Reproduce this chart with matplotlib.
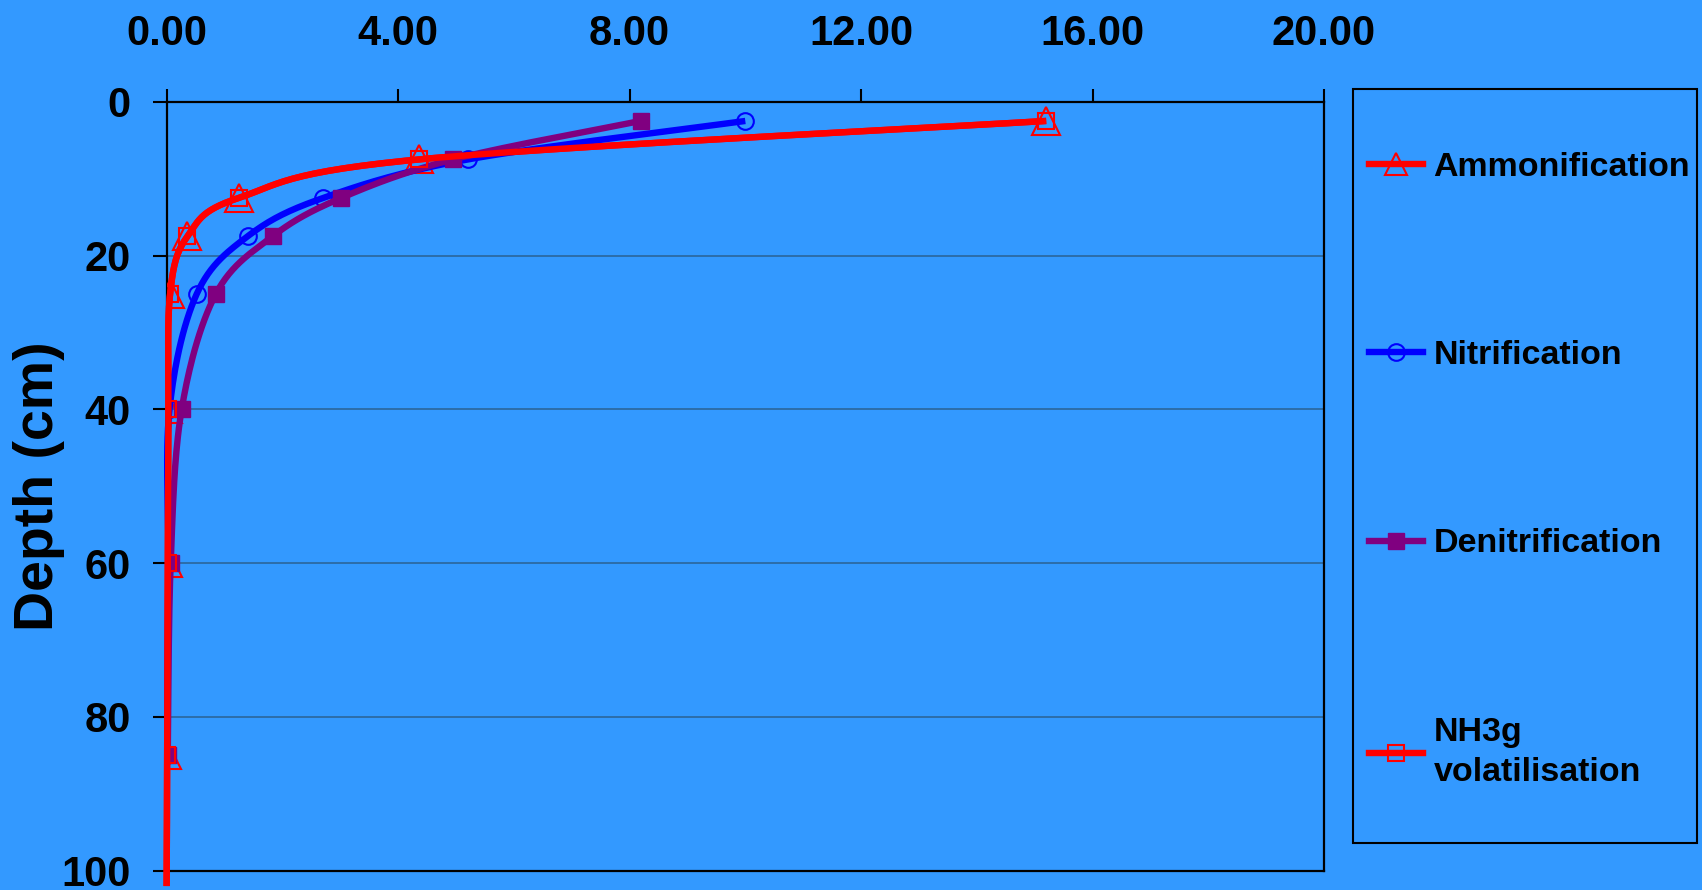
import numpy as np
import matplotlib.pyplot as plt
from matplotlib.lines import Line2D
from matplotlib.patches import Rectangle

plt.rcParams['font.family'] = ['Liberation Sans', 'DejaVu Sans']
plt.rcParams['font.weight'] = 'bold'

# soil layer mid-depths (cm); last value lies just below the plotted range
depth = [2.5, 7.5, 12.5, 17.5, 25, 40, 60, 85, 102]
ammonification = [15.20, 4.36, 1.25, 0.36, 0.06, 0.03, 0.02, 0.01, 0.0]
nitrification = [10.00, 5.21, 2.71, 1.40, 0.52, 0.05, 0.03, 0.01]
denitrification = [8.19, 4.95, 3.02, 1.83, 0.85, 0.26, 0.07, 0.02]
nh3g = [15.20, 4.36, 1.25, 0.36, 0.06, 0.03, 0.02, 0.01, 0.0]

xticks = [0, 4, 8, 12, 16, 20]
yticks = [0, 20, 40, 60, 80, 100]

bg = '#3399ff'
series = [
    ('Ammonification', ammonification, '#ff0000', dict(marker='^', ms=20, mfc='none', mec='#ff0000', mew=1.5)),
    ('Nitrification', nitrification, '#0000ff', dict(marker='o', ms=12, mfc='none', mec='#0000ff', mew=1.5)),
    ('Denitrification', denitrification, '#800080', dict(marker='s', ms=11, mfc='#800080', mec='#800080', mew=1)),
    ('NH3g\nvolatilisation', nh3g, '#ff0000', dict(marker='s', ms=11.5, mfc='none', mec='#ff0000', mew=1.5)),
]


def smooth(ax, xs, ys, n=30):
    # Bezier smoothing through the points, done in pixel units like a spreadsheet "smoothed line"
    bb = ax.get_window_extent()
    sx = bb.width / 20.0
    sy = bb.height / 100.0
    p = np.column_stack([np.asarray(xs, float) * sx, np.asarray(ys, float) * sy])
    p = np.vstack([p[0], p, p[-1]])
    t = np.linspace(0, 1, n, endpoint=False)[:, None]
    out = []
    for i in range(1, len(p) - 2):
        p0, p1, p2, p3 = p[i - 1], p[i], p[i + 1], p[i + 2]
        c1 = p1 + (p2 - p0) / 6
        c2 = p2 - (p3 - p1) / 6
        out.append((1 - t) ** 3 * p1 + 3 * (1 - t) ** 2 * t * c1
                   + 3 * (1 - t) * t ** 2 * c2 + t ** 3 * p2)
    out.append(p[-2][None, :])
    out = np.vstack(out)
    return out[:, 0] / sx, out[:, 1] / sy


fig = plt.figure(figsize=(17.02, 8.90), dpi=100, facecolor=bg)
ax = fig.add_axes([0.0979, 0.0217, 0.680, 0.8640], facecolor=bg)
ax.set_xlim(0, 20)
ax.set_ylim(100, 0)

handles = []
for z, (name, vals, col, mk) in enumerate(series):
    d = depth[:len(vals)]
    sxv, syv = smooth(ax, vals, d)
    ax.plot(sxv, syv, color=col, lw=4.6, solid_capstyle='butt', zorder=3 + z, clip_on=False)
    ax.plot(vals, d, ls='none', zorder=3 + z, **mk)
    lmk = dict(mk, ms=mk['ms'] * (0.8 if mk['marker'] == '^' else 1.0))
    handles.append(Line2D([], [], color=col, lw=4.6, label=name, **lmk))

ax.xaxis.tick_top()
ax.set_xticks(xticks)
ax.set_xticklabels(['%.2f' % v for v in xticks])
ax.set_yticks(yticks)
ax.tick_params(axis='x', length=9.5, width=1.5, pad=25, labelsize=30, direction='out')
ax.tick_params(axis='y', length=10, width=1.5, pad=16, labelsize=30, direction='out')
for s in ax.spines.values():
    s.set_linewidth(1.6)
    s.set_color('black')
    s.set_zorder(2)

ax.grid(axis='y', color='#2c6aa3', lw=1.3)
ax.set_axisbelow(True)

fig.text(39 / 1702, 1 - 486 / 890, 'Depth (cm)', rotation=90, ha='center', va='center',
         fontsize=40, fontweight='bold')

# legend box drawn on the figure, entries placed inside it
fig.patches.append(Rectangle((1352.7 / 1702, 1 - 843.3 / 890), 344.6 / 1702, 754 / 890,
                             transform=fig.transFigure, fill=False, ec='black', lw=1.5))
leg = fig.legend(handles=handles, loc='upper left', bbox_to_anchor=(1369 / 1702, 1 - 152 / 890),
                 frameon=False, fontsize=24.5, handlelength=1.6, handletextpad=0.3,
                 labelspacing=4.62, borderpad=0, borderaxespad=0)
leg.get_texts()[3].set_linespacing(1.4)

fig.savefig('out.png', dpi=100, facecolor=bg)
